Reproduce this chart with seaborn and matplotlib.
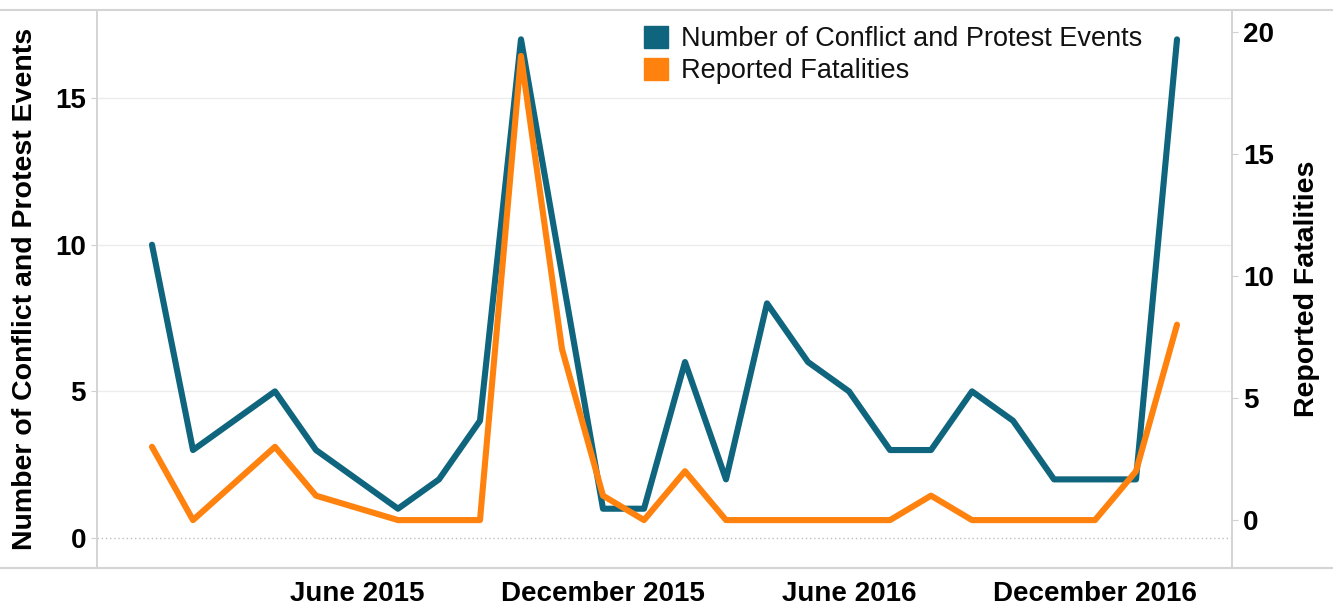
import matplotlib
matplotlib.use("Agg")
import matplotlib.pyplot as plt
from matplotlib.lines import Line2D
from matplotlib.patches import Patch
import numpy as np
import pandas as pd
import seaborn as sns

# monthly data, Jan 2015 .. Feb 2017 (no records for Mar and Jun 2015)
months = ["Jan 2015", "Feb 2015", "Mar 2015", "Apr 2015", "May 2015", "Jun 2015",
          "Jul 2015", "Aug 2015", "Sep 2015", "Oct 2015", "Nov 2015", "Dec 2015",
          "Jan 2016", "Feb 2016", "Mar 2016", "Apr 2016", "May 2016", "Jun 2016",
          "Jul 2016", "Aug 2016", "Sep 2016", "Oct 2016", "Nov 2016", "Dec 2016",
          "Jan 2017", "Feb 2017"]
events = [10, 3, None, 5, 3, None, 1, 2, 4, 17, 9, 1,
          1, 6, 2, 8, 6, 5, 3, 3, 5, 4, 2, 2, 2, 17]
fatalities = [3, 0, None, 3, 1, None, 0, 0, 0, 19, 7, 1,
              0, 2, 0, 0, 0, 0, 0, 1, 0, 0, 0, 0, 2, 8]
tick_months = ["Jun 2015", "Dec 2015", "Jun 2016", "Dec 2016"]
tick_labels = ["June 2015", "December 2015", "June 2016", "December 2016"]

events_label = "Number of Conflict and Protest Events"
fatal_label = "Reported Fatalities"
teal = "#10657e"
orange = "#ff820e"

df = pd.DataFrame({"month": months, "events": events, "fatalities": fatalities})
df["idx"] = np.arange(len(df))
df = df.dropna(subset=["events", "fatalities"])

sns.set_style("white")
plt.rcParams["font.family"] = ["Liberation Sans", "DejaVu Sans"]
plt.rcParams["text.color"] = "black"
plt.rcParams["xtick.color"] = "black"
plt.rcParams["ytick.color"] = "black"

fig = plt.figure(figsize=(13.33, 6.07), dpi=100)
ax = fig.add_axes([0.0728, 0.0643, 0.8514, 0.9192])
ax2 = ax.twinx()

sns.lineplot(data=df, x="idx", y="events", ax=ax, color=teal, linewidth=4.4,
             solid_capstyle="round", solid_joinstyle="round")
sns.lineplot(data=df, x="idx", y="fatalities", ax=ax2, color=orange, linewidth=4.4,
             solid_capstyle="round", solid_joinstyle="round")

ax.set_xlim(-1.34, 26.34)
ax.set_ylim(-1.02, 18.0)
ax2.set_ylim(-1.96, 20.88)

# grid and zero line
for v in [5, 10, 15]:
    ax.axhline(v, color="#ececec", linewidth=1, zorder=0)
ax.axhline(0, color="#bdbdbd", linewidth=1, linestyle=(0, (1, 2)), zorder=0)

ax.set_yticks([0, 5, 10, 15])
ax2.set_yticks([0, 5, 10, 15, 20])
ax.set_xticks([months.index(m) for m in tick_months])
ax.set_xticklabels(tick_labels)
ax.set_xticks(np.arange(-1, 27), minor=True)

ax.tick_params(axis="y", labelsize=20, length=4, color="#d0d0d0", labelcolor="black", pad=4)
ax2.tick_params(axis="y", labelsize=20, length=4, color="#d0d0d0", labelcolor="black", pad=4)
ax.tick_params(axis="x", which="major", labelsize=20, length=5, color="#d8d8d8",
               labelcolor="black", pad=4.5)
ax.tick_params(axis="x", which="minor", length=5, color="#ececec")
for lab in ax.get_xticklabels() + ax.get_yticklabels() + ax2.get_yticklabels():
    lab.set_fontweight("bold")

ax.set_xlabel("")
ax.set_ylabel(events_label, fontsize=20.5, fontweight="bold", labelpad=12, color="black")
ax2.set_ylabel(fatal_label, fontsize=20.5, fontweight="bold", labelpad=14, color="black")

for a in (ax, ax2):
    for s in a.spines.values():
        s.set_color("#d4d4d4")
        s.set_linewidth(1.2)
    a.spines["top"].set_visible(False)
    a.spines["bottom"].set_visible(False)

# full-width top and bottom borders
fig.add_artist(Line2D([0, 1], [0.9835, 0.9835], transform=fig.transFigure,
                      color="#d4d4d4", linewidth=1.5))
fig.add_artist(Line2D([0, 1], [0.0643, 0.0643], transform=fig.transFigure,
                      color="#d4d4d4", linewidth=1.5))

handles = [Patch(facecolor=teal, edgecolor=teal), Patch(facecolor=orange, edgecolor=orange)]
leg = ax2.legend(handles, [events_label, fatal_label], loc="upper left",
                 bbox_to_anchor=(0.482, 0.972), frameon=False, fontsize=19.5,
                 handlelength=0.9, handleheight=0.9, handletextpad=0.45,
                 labelspacing=0.2, borderpad=0, borderaxespad=0)
for t in leg.get_texts():
    t.set_color("#111111")

fig.savefig("out.png", dpi=100)
